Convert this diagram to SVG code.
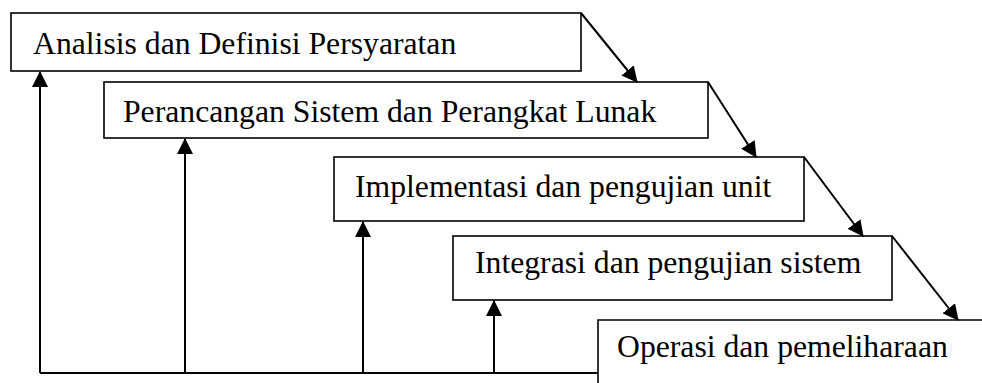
<svg xmlns="http://www.w3.org/2000/svg" width="982" height="383" viewBox="0 0 982 383">
<style>
.box{fill:#fff;stroke:#000;stroke-width:1.6}
.lbl{font-family:'Liberation Serif','Times New Roman','DejaVu Serif',serif;font-size:31.7px;fill:#000}
.con{fill:none;stroke:#000;stroke-width:2}
</style>
<defs>
<marker id="ah" markerUnits="userSpaceOnUse" markerWidth="16" markerHeight="16" viewBox="0 0 16 16" refX="15" refY="8" orient="auto">
<path d="M0,0 L16,8 L0,16 Z" fill="#000"/>
</marker>
</defs>
<rect width="982" height="383" fill="#fff"/>
<g id="n1"><rect class="box" x="11" y="13" width="570" height="58"/><text class="lbl" font-family="Liberation Serif, serif" x="33" y="54">Analisis dan Definisi Persyaratan</text></g>
<g id="n2"><rect class="box" x="104" y="82" width="604" height="56"/><text class="lbl" font-family="Liberation Serif, serif" x="123" y="122">Perancangan Sistem dan Perangkat Lunak</text></g>
<g id="n3"><rect class="box" x="334" y="157" width="470" height="64"/><text class="lbl" font-family="Liberation Serif, serif" x="355" y="197">Implementasi dan pengujian unit</text></g>
<g id="n4"><rect class="box" x="453" y="236" width="439" height="64"/><text class="lbl" font-family="Liberation Serif, serif" x="475" y="273">Integrasi dan pengujian sistem</text></g>
<g id="n5"><path class="box" d="M598,383 L598,320 L982,320" fill="none"/><text class="lbl" font-family="Liberation Serif, serif" x="617" y="357">Operasi dan pemeliharaan</text></g>
<g id="connectors">
<line class="con" x1="581" y1="13" x2="637" y2="82" marker-end="url(#ah)"/>
<line class="con" x1="708" y1="82" x2="756" y2="157" marker-end="url(#ah)"/>
<line class="con" x1="804" y1="157" x2="863" y2="236" marker-end="url(#ah)"/>
<line class="con" x1="892" y1="236" x2="958" y2="320" marker-end="url(#ah)"/>
<path class="con" d="M40,373 L598,373"/>
<line class="con" x1="40" y1="373" x2="40" y2="72" marker-end="url(#ah)"/>
<line class="con" x1="185" y1="373" x2="185" y2="139" marker-end="url(#ah)"/>
<line class="con" x1="363" y1="373" x2="363" y2="222" marker-end="url(#ah)"/>
<line class="con" x1="494" y1="373" x2="494" y2="301" marker-end="url(#ah)"/>
</g>
</svg>
